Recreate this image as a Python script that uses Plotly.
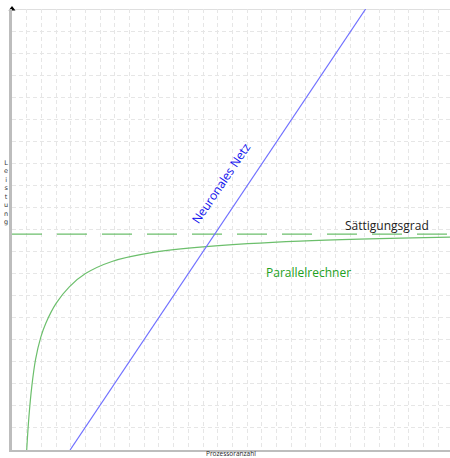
import plotly.graph_objects as go

# Data (grid units)
par_x = [1.0, 1.15, 1.35, 1.6, 1.95, 2.3, 3.0, 3.9, 5.0, 6.8, 9.5, 13.2, 19.6, 29.8]
par_y = [0.0, 1.5, 2.9, 4.1, 5.1, 5.75, 6.65, 7.4, 8.0, 8.55, 8.95, 9.22, 9.47, 9.65]
nn_x = [3.95, 24.06]
nn_y = [0.0, 20.0]
sat_x = [0.0, 29.8]
sat_y = [9.79, 9.79]

X_MAX = 29.8
Y_MAX = 20.0

fig = go.Figure()
fig.add_trace(go.Scatter(x=sat_x, y=sat_y, mode="lines",
                         line=dict(color="#6cbf6c", width=1.2, dash="30px,15px"),
                         hoverinfo="skip", showlegend=False))
fig.add_trace(go.Scatter(x=par_x, y=par_y, mode="lines", line_shape="spline",
                         line=dict(color="#6cbf6c", width=1.2, smoothing=1.0),
                         hoverinfo="skip", showlegend=False))
fig.add_trace(go.Scatter(x=nn_x, y=nn_y, mode="lines",
                         line=dict(color="#7070ff", width=1.2),
                         hoverinfo="skip", showlegend=False))
# arrow head at top of y axis
fig.add_trace(go.Scatter(x=[0], y=[Y_MAX], mode="markers",
                         marker=dict(symbol="triangle-up", size=6, color="black"),
                         cliponaxis=False, hoverinfo="skip", showlegend=False))

# top border
fig.add_shape(type="line", x0=0, x1=X_MAX, y0=Y_MAX, y1=Y_MAX,
              line=dict(color="#d4d4d4", width=1.5), layer="below")

font = "Open Sans, DejaVu Sans, sans-serif"
fig.add_annotation(x=14.2, y=12.1, text="Neuronales Netz", textangle=-56,
                   showarrow=False, font=dict(family=font, size=12, color="#1010ee"))
fig.add_annotation(x=25.5, y=10.2, text="Sättigungsgrad",
                   showarrow=False, font=dict(family=font, size=12, color="#222222"))
fig.add_annotation(x=20.2, y=8.05, text="Parallelrechner",
                   showarrow=False, font=dict(family=font, size=12, color="#22a022"))
fig.add_annotation(xref="paper", yref="paper", x=0.5, y=0, yshift=2,
                   text="Prozessoranzahl", showarrow=False, yanchor="top",
                   borderpad=0, font=dict(family=font, size=6.5, color="#222222"))
fig.add_annotation(xref="paper", x=0, xshift=-6, y=11.7,
                   text="L<br>e<br>i<br>s<br>t<br>u<br>n<br>g", showarrow=False,
                   xanchor="center", borderpad=0,
                   font=dict(family="DejaVu Sans, sans-serif", size=6.5, color="#333333"))

fig.update_xaxes(range=[0, X_MAX], dtick=1, showticklabels=False, ticks="",
                 showgrid=True, gridcolor="#e6e6e6", griddash="4px,3px", gridwidth=1,
                 showline=True, linecolor="#bdbdbd", linewidth=2, zeroline=False,
                 fixedrange=True)
fig.update_yaxes(range=[0, Y_MAX], dtick=1, showticklabels=False, ticks="",
                 showgrid=True, gridcolor="#e6e6e6", griddash="4px,3px", gridwidth=1,
                 showline=True, linecolor="#bdbdbd", linewidth=3, zeroline=False,
                 fixedrange=True)

fig.update_layout(width=450, height=458,
                  margin=dict(l=12, r=0, t=9, b=8),
                  plot_bgcolor="white", paper_bgcolor="white")

fig.write_html("out.html", config={"displayModeBar": False},
               post_script="document.body.style.margin='0';document.body.style.padding='0';document.body.style.overflow='hidden';")
